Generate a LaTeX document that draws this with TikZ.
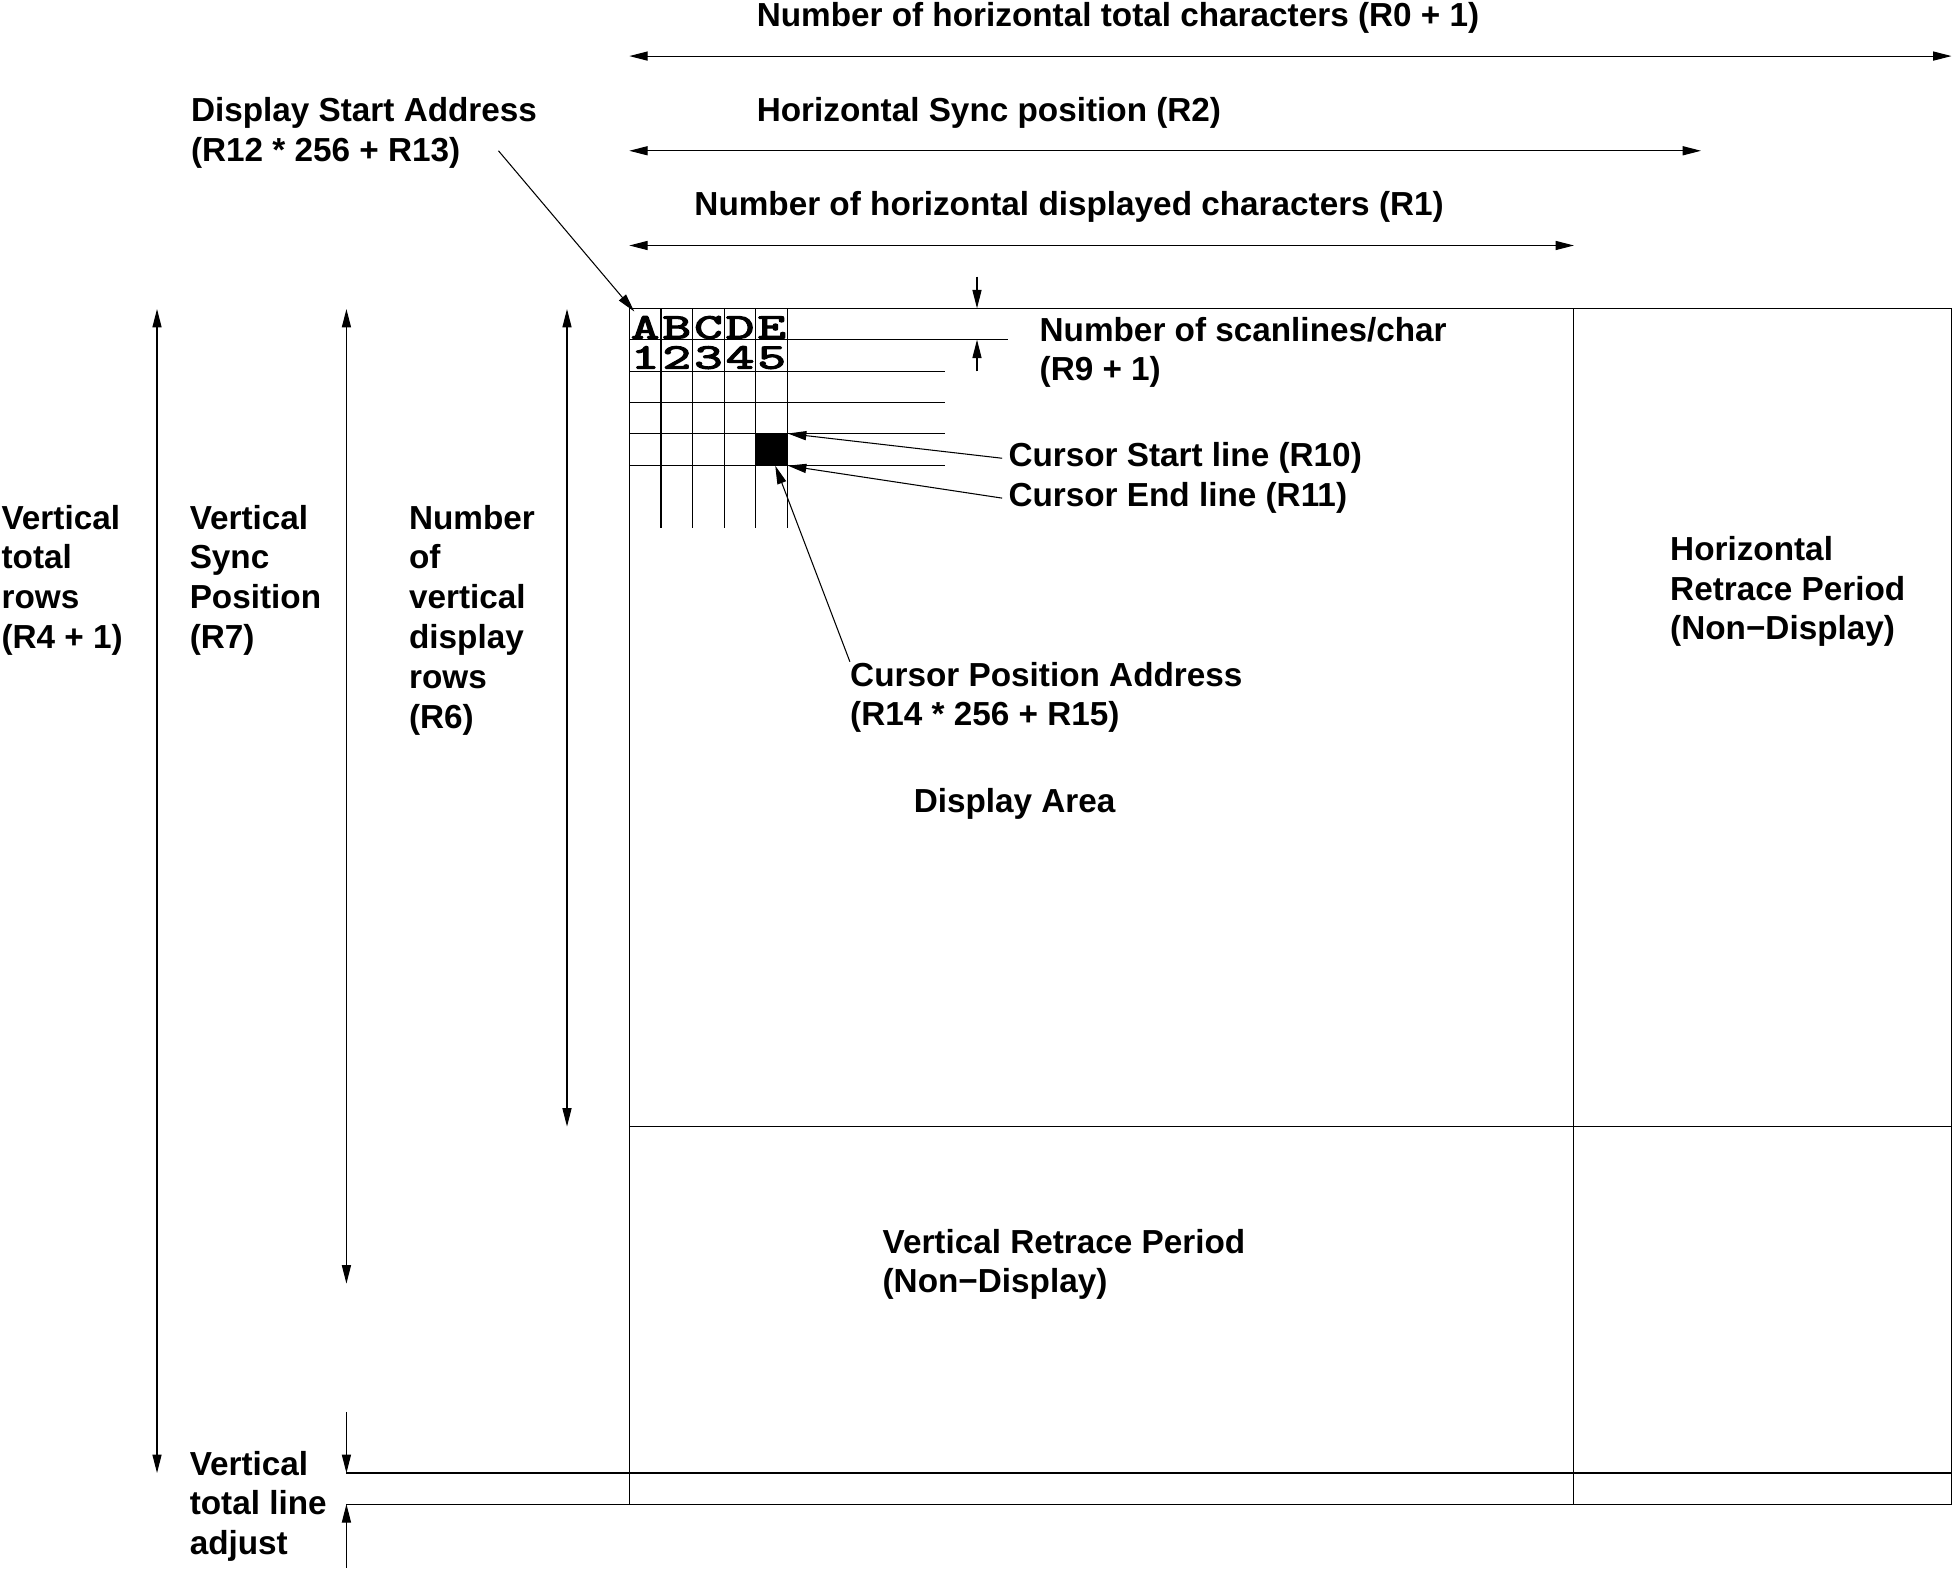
\documentclass[tikz,border=0pt]{standalone}
\usepackage{fontspec}
\setmainfont{Liberation Sans}
\newfontfamily\cellfont{lmmono10-regular}[Extension=.otf,FakeBold=3]
\usetikzlibrary{arrows.meta}

\tikzset{
  frame/.style={line width=0.6pt},
  dim/.style={line width=0.6pt,{Triangle[length=10.5pt,width=5.2pt]}-{Triangle[length=10.5pt,width=5.2pt]}},
  ptr/.style={line width=0.6pt,-{Triangle[length=10.5pt,width=5.2pt]}},
  lbl/.style={font=\fontsize{19}{22.7}\selectfont\bfseries,align=left,anchor=north west,inner sep=0pt},
  cellchar/.style={font=\fontsize{20.5}{20.5}\selectfont\cellfont,anchor=base,inner sep=0pt},
}

\begin{document}
\begin{tikzpicture}[x=0.025cm,y=-0.025cm]
\useasboundingbox (0,0) rectangle (1568,1260);
% screen areas
\draw[frame] (505,247.4) rectangle (1566,1207);
\draw[frame] (1263,247.4) -- (1263,1207);
\draw[frame] (505,904) -- (1566,904);
\draw[frame] (278,1182) -- (1566,1182);
\draw[frame] (278,1207) -- (505,1207);
% character cells
\foreach \c in {1,...,5} \draw[frame] (505+25.4*\c,247.4) -- (505+25.4*\c,424);
\draw[frame] (505,272.6) -- (809,272.6);
\foreach \r in {2,...,5} \draw[frame] (505,247.4+25.2*\r) -- (758,247.4+25.2*\r);
\foreach \t [count=\i] in {A,B,C,D,E}
  \node[cellchar] (top\i) at (505+25.4*\i-12.7,271.6) {\scalebox{1.5}[1]{\t}};
\foreach \i in {1,...,5}
  \node[cellchar] (num\i) at (505+25.4*\i-12.7,295.8) {\scalebox{1.5}[1]{\i}};
\node[fill=black,inner sep=0pt,minimum width=0.635cm,minimum height=0.63cm] (cursor) at (619.3,360.8) {};

% labels
\node[lbl] (htot) at (607,2) {Number of horizontal total characters (R0 + 1)};
\node[lbl] (hsync) at (607,78) {Horizontal Sync position (R2)};
\node[lbl] (hdisp) at (557,153) {Number of horizontal displayed characters (R1)};
\node[lbl] (dsa) at (153,78) {Display Start Address\\(R12 * 256 + R13)};
\node[lbl] (scan) at (834,254) {Number of scanlines/char\\(R9 + 1)};
\node[lbl] (cstart) at (809,355) {Cursor Start line (R10)};
\node[lbl] (cend) at (809,387) {Cursor End line (R11)};
\node[lbl] (cpa) at (682,531) {Cursor Position Address\\(R14 * 256 + R15)};
\node[lbl] (darea) at (733,632) {Display Area};
\node[lbl] (hret) at (1340,430) {Horizontal\\Retrace Period\\(Non−Display)};
\node[lbl] (vret) at (708,986) {Vertical Retrace Period\\(Non−Display)};
\node[lbl] (vtot) at (1,405) {Vertical\\total\\rows\\(R4 + 1)};
\node[lbl] (vsync) at (152,405) {Vertical\\Sync\\Position\\(R7)};
\node[lbl] (vdisp) at (328,405) {Number\\of\\vertical\\display\\rows\\(R6)};
\node[lbl] (vadj) at (152,1164) {Vertical\\total line\\adjust};

% dimension arrows
\coordinate (htotL) at (505,45); \coordinate (htotR) at (1566,45);
\coordinate (hsyncL) at (505,121); \coordinate (hsyncR) at (1365,121);
\coordinate (hdispL) at (505,197); \coordinate (hdispR) at (1263,197);
\coordinate (vtotT) at (126,248); \coordinate (vtotB) at (126,1182);
\coordinate (vsyncT) at (278,248); \coordinate (vsyncB) at (278,1030);
\coordinate (vdispT) at (455,248); \coordinate (vdispB) at (455,904);
\draw[dim] (htotL) -- (htotR);
\draw[dim] (hsyncL) -- (hsyncR);
\draw[dim] (hdispL) -- (hdispR);
\draw[dim] (vtotT) -- (vtotB);
\draw[dim] (vsyncT) -- (vsyncB);
\draw[dim] (vdispT) -- (vdispB);
\coordinate (adjA) at (278,1133); \coordinate (adjB) at (278,1182);
\coordinate (adjC) at (278,1258); \coordinate (adjD) at (278,1207);
\draw[ptr] (adjA) -- (adjB);
\draw[ptr] (adjC) -- (adjD);
\coordinate (scanA) at (784,222); \coordinate (scanB) at (784,247.4);
\coordinate (scanC) at (784,298); \coordinate (scanD) at (784,272.6);
\draw[ptr] (scanA) -- (scanB);
\draw[ptr] (scanC) -- (scanD);

% pointers
\coordinate (dsatail) at (400,121);
\coordinate (gridcorner) at (509,250);
\draw[ptr] (dsatail) -- (gridcorner);
\draw[ptr] ([xshift=-0.12cm]cstart.west) -- (cursor.north east);
\draw[ptr] ([xshift=-0.12cm]cend.west) -- (cursor.south east);
\draw[ptr] (cpa.north west) -- ([xshift=0.07cm]cursor.south);
\end{tikzpicture}
\end{document}
